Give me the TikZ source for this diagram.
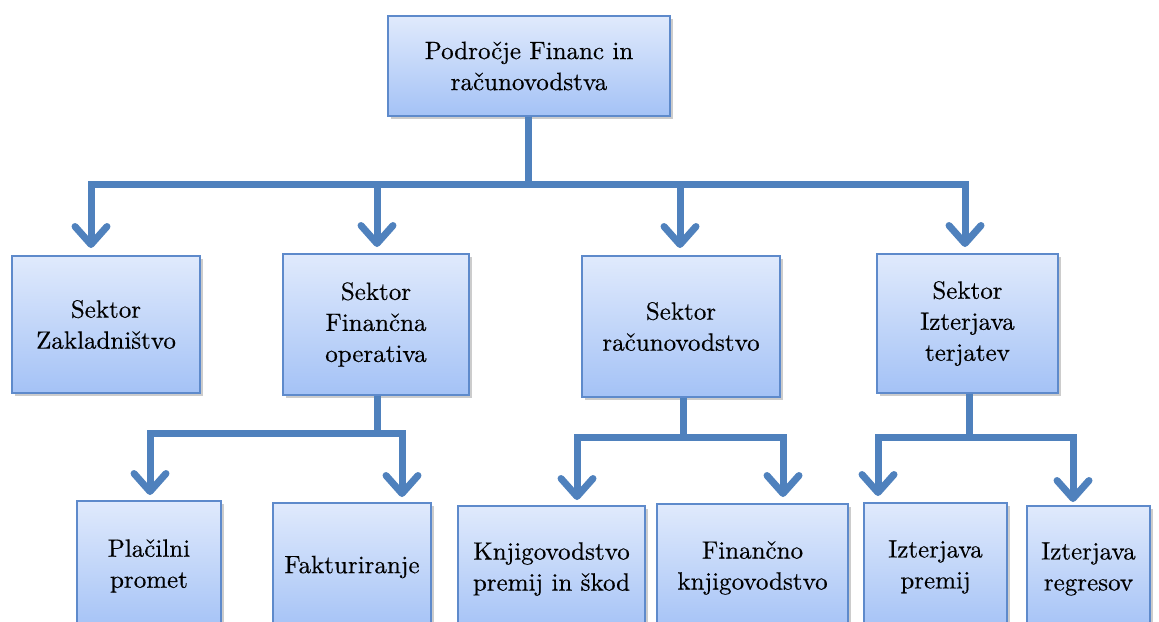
\documentclass[tikz,border=0pt]{standalone}
\usepackage{fontspec}
\newfontfamily\boxfont{lmroman10-regular.otf}[FakeBold=0.4]
\usetikzlibrary{arrows.meta,shadows,calc}
\definecolor{conncol}{HTML}{4F81BD}
\definecolor{boxtop}{HTML}{E0EAFC}
\definecolor{boxbot}{HTML}{A4C2F6}
\definecolor{boxline}{HTML}{5E8ACB}
\tikzset{
  orgbox/.style={rectangle, draw=boxline, line width=1.4pt, top color=boxtop, bottom color=boxbot,
    align=center, inner sep=2pt, text=black,
    font=\boxfont\fontsize{25}{31}\selectfont,
    drop shadow={shadow xshift=2.5pt, shadow yshift=-2.5pt, opacity=0.2, fill=black}},
  conn/.style={draw=conncol, line width=7pt, line join=miter},
  arr/.style={conn, -{Straight Barb[length=18pt,width=32pt,round]}}
}
\begin{document}
\begin{tikzpicture}[x=1pt,y=-1pt]
\useasboundingbox (0,0) rectangle (1159,621);
\clip (0,0) rectangle (1159,621);
% level 1
\node[orgbox, minimum width=282pt, minimum height=100pt] (top) at (529,66) {Področje Financ in\\računovodstva};
% level 2
\node[orgbox, minimum width=188pt, minimum height=137pt] (zak) at (106,324.5) {Sektor\\Zakladništvo};
\node[orgbox, minimum width=186pt, minimum height=141pt] (fin) at (376,324.5) {Sektor\\Finančna\\operativa};
\node[orgbox, minimum width=198pt, minimum height=141pt] (rac) at (681,326.5) {Sektor\\računovodstvo};
\node[orgbox, minimum width=181pt, minimum height=139pt] (izt) at (967.5,323.5) {Sektor\\Izterjava\\terjatev};
% level 3
\node[orgbox, minimum width=144pt, minimum height=130pt] (pla) at (149,566) {Plačilni\\promet};
\node[orgbox, minimum width=158pt, minimum height=128pt] (fak) at (352,567) {Fakturiranje};
\node[orgbox, minimum width=187pt, minimum height=126pt] (knj) at (551.5,569) {Knjigovodstvo\\premij in škod};
\node[orgbox, minimum width=191pt, minimum height=128pt] (fkn) at (752.5,568) {Finančno\\knjigovodstvo};
\node[orgbox, minimum width=143pt, minimum height=128pt] (izp) at (935.5,567) {Izterjava\\premij};
\node[orgbox, minimum width=123pt, minimum height=126pt] (izr) at (1088.5,569) {Izterjava\\regresov};
% junctions and arrow ends
\coordinate (j1) at (528,184);
\coordinate (t1) at (91,248);
\coordinate (t2) at (377,247);
\coordinate (t3) at (680,248);
\coordinate (t4) at (965,247);
\coordinate (j2) at (377,433);
\coordinate (u1) at (150,495);
\coordinate (u2) at (402,497);
\coordinate (j3) at (683,437);
\coordinate (u3) at (577,500);
\coordinate (u4) at (783,497);
\coordinate (j4) at (969,437);
\coordinate (u5) at (878,496);
\coordinate (u6) at (1073,502);
% connectors level 1 -> 2
\foreach \t in {t1,t2,t3,t4}
  \draw[arr] (top.south -| j1) -- (j1) -| (\t);
% connectors level 2 -> 3
\foreach \t in {u1,u2}
  \draw[arr] (fin.south -| j2) -- (j2) -| (\t);
\foreach \t in {u3,u4}
  \draw[arr] (rac.south -| j3) -- (j3) -| (\t);
\foreach \t in {u5,u6}
  \draw[arr] (izt.south -| j4) -- (j4) -| (\t);
\end{tikzpicture}
\end{document}
